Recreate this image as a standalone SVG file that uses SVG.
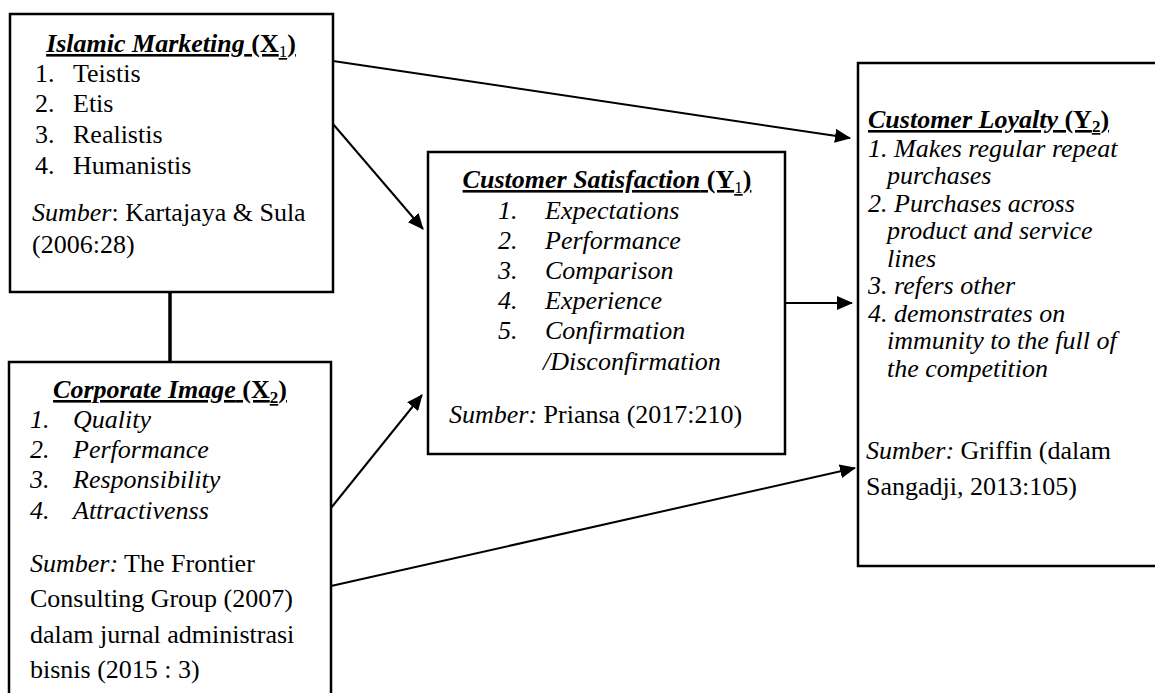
<svg xmlns="http://www.w3.org/2000/svg" width="1155" height="693" viewBox="0 0 1155 693">
<style>
text{font-family:'Liberation Serif','Tinos','DejaVu Serif','Times New Roman',serif;font-size:26px;fill:#000}
.t{font-weight:bold;text-decoration:underline}
.bi{font-style:italic}
.it{font-style:italic}
.sub{font-size:17px}
.box{fill:#fff;stroke:#000;stroke-width:2.5}
.cn{stroke:#000;stroke-width:2;fill:none}
</style>
<defs>
<marker id="ah" viewBox="0 0 16 14" markerWidth="16" markerHeight="14" refX="15" refY="7" orient="auto" markerUnits="userSpaceOnUse">
<path d="M0,0 L16,7 L0,14 z" fill="#000"/>
</marker>
</defs>
<g id="connectors">
<line x1="170" y1="292" x2="170" y2="362" stroke="#000" stroke-width="3.5"/>
<line class="cn" x1="333" y1="61" x2="850" y2="138" marker-end="url(#ah)"/>
<line class="cn" x1="333" y1="124" x2="423" y2="229" marker-end="url(#ah)"/>
<line class="cn" x1="331" y1="508" x2="422" y2="395" marker-end="url(#ah)"/>
<line class="cn" x1="331" y1="586" x2="855" y2="468" marker-end="url(#ah)"/>
<line class="cn" x1="785" y1="303" x2="852" y2="303" marker-end="url(#ah)"/>
</g>
<g id="islamic-marketing">
<rect class="box" x="10" y="14" width="323" height="278"/>
<text class="t" x="171" y="52" text-anchor="middle"><tspan class="bi">Islamic Marketing</tspan> (X<tspan class="sub" font-weight="normal" dy="5">1</tspan><tspan dy="-5">)</tspan></text>
<text x="35" y="82">1.</text><text x="73" y="82">Teistis</text>
<text x="35" y="112">2.</text><text x="73" y="112">Etis</text>
<text x="35" y="143">3.</text><text x="73" y="143">Realistis</text>
<text x="35" y="174">4.</text><text x="73" y="174">Humanistis</text>
<text x="32" y="221"><tspan class="it">Sumber</tspan>: Kartajaya &amp; Sula</text>
<text x="32" y="253">(2006:28)</text>
</g>
<g id="corporate-image">
<rect class="box" x="9" y="362" width="322" height="345"/>
<text class="t" x="170" y="398" text-anchor="middle"><tspan class="bi">Corporate Image</tspan> (X<tspan class="sub" dy="5">2</tspan><tspan dy="-5">)</tspan></text>
<text class="it" x="30" y="428">1.</text><text class="it" x="73" y="428">Quality</text>
<text class="it" x="30" y="458">2.</text><text class="it" x="73" y="458">Performance</text>
<text class="it" x="30" y="488">3.</text><text class="it" x="73" y="488">Responsibility</text>
<text class="it" x="30" y="519">4.</text><text class="it" x="73" y="519">Attractivenss</text>
<text x="30" y="572"><tspan class="it">Sumber:</tspan> The Frontier</text>
<text x="30" y="607">Consulting Group (2007)</text>
<text x="30" y="643">dalam jurnal administrasi</text>
<text x="30" y="678">bisnis (2015 : 3)</text>
</g>
<g id="customer-satisfaction">
<rect class="box" x="428" y="152" width="357" height="302"/>
<text class="t" x="607" y="188" text-anchor="middle"><tspan class="bi">Customer Satisfaction</tspan> (Y<tspan class="sub" font-weight="normal" dy="5">1</tspan><tspan dy="-5">)</tspan></text>
<text class="it" x="498" y="219">1.</text><text class="it" x="545" y="219">Expectations</text>
<text class="it" x="498" y="249">2.</text><text class="it" x="545" y="249">Performance</text>
<text class="it" x="498" y="279">3.</text><text class="it" x="545" y="279">Comparison</text>
<text class="it" x="498" y="309">4.</text><text class="it" x="545" y="309">Experience</text>
<text class="it" x="498" y="339">5.</text><text class="it" x="545" y="339">Confirmation</text>
<text class="it" x="543" y="370">/Disconfirmation</text>
<text x="449" y="423"><tspan class="it">Sumber:</tspan> Priansa (2017:210)</text>
</g>
<g id="customer-loyalty">
<rect class="box" x="858" y="63" width="320" height="503"/>
<text class="t" x="868" y="128"><tspan class="bi">Customer Loyalty</tspan> (Y<tspan class="sub" dy="4">2</tspan><tspan dy="-4">)</tspan></text>
<text class="it" x="868" y="157">1. Makes regular repeat</text>
<text class="it" x="887" y="184">purchases</text>
<text class="it" x="868" y="212">2. Purchases across</text>
<text class="it" x="887" y="239">product and service</text>
<text class="it" x="887" y="267">lines</text>
<text class="it" x="868" y="294">3. refers other</text>
<text class="it" x="868" y="322">4. demonstrates on</text>
<text class="it" x="887" y="349">immunity to the full of</text>
<text class="it" x="887" y="377">the competition</text>
<text x="866" y="459"><tspan class="it">Sumber:</tspan> Griffin (dalam</text>
<text x="866" y="495">Sangadji, 2013:105)</text>
</g>
</svg>
